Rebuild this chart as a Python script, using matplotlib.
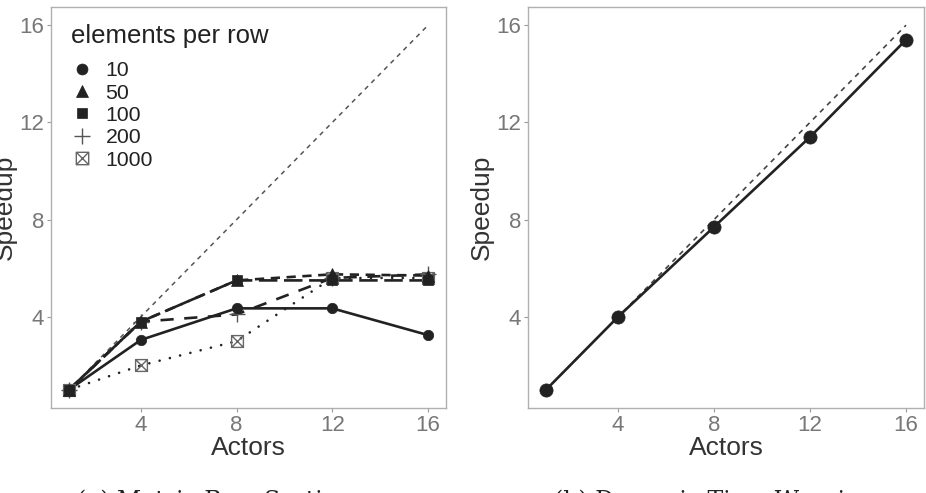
import matplotlib
matplotlib.use("Agg")
import matplotlib.pyplot as plt
from matplotlib.lines import Line2D
from matplotlib.path import Path

plt.rcParams['font.family'] = ['Liberation Sans', 'DejaVu Sans']

actors = [1, 4, 8, 12, 16]
ideal = [1, 16]

# matrix row sorting, one series per "elements per row"
row_labels = ['10', '50', '100', '200', '1000']
speed_10 = [1, 3.05, 4.35, 4.35, 3.25]
speed_50 = [1, 3.8, 5.5, 5.75, 5.7]
speed_100 = [1, 3.8, 5.5, 5.5, 5.5]
speed_200 = [1, 3.8, 4.1, 5.6, 5.75]
speed_1000 = [1, 2.0, 3.0, 5.6, 5.6]

# dynamic time warping
dtw_speed = [1, 4.0, 7.7, 11.4, 15.4]

# square with a cross inside (ggplot shape 7)
sq_cross = Path([(-1, -1), (1, -1), (1, 1), (-1, 1), (-1, -1),
                 (-1, -1), (1, 1), (-1, 1), (1, -1)],
                [Path.MOVETO, Path.LINETO, Path.LINETO, Path.LINETO, Path.CLOSEPOLY,
                 Path.MOVETO, Path.LINETO, Path.MOVETO, Path.LINETO])

dark = '#222222'
series = [
    (speed_10, 'o', '-', 7.5, dark, 'full'),
    (speed_50, '^', (0, (3.5, 2.5)), 8, dark, 'full'),
    (speed_100, 's', (0, (7, 2.5)), 7.5, dark, 'full'),
    (speed_200, '+', (0, (5, 4)), 11, '#555555', 'full'),
    (speed_1000, sq_cross, (0, (0.01, 4)), 8.5, '#666666', 'none'),
]

fig = plt.figure(figsize=(9.26, 4.93), dpi=100)
ax1 = fig.add_axes([51 / 926, 1 - 408 / 493, 395 / 926, 401 / 493])
ax2 = fig.add_axes([528 / 926, 1 - 408 / 493, 396 / 926, 401 / 493])


def style(ax):
    ax.set_xlim(0.25, 16.75)
    ax.set_ylim(0.25, 16.75)
    ax.set_xticks([4, 8, 12, 16])
    ax.set_yticks([4, 8, 12, 16])
    for s in ax.spines.values():
        s.set_color('#b0b0b0')
        s.set_linewidth(1.0)
    ax.tick_params(colors='#9a9a9a', labelcolor='#777777', labelsize=16,
                   length=3, width=0.8, pad=2)
    ax.set_xlabel('Actors', fontsize=19, color='#333333')
    ax.set_ylabel('Speedup', fontsize=19, color='#333333')
    ax.xaxis.set_label_coords(0.5, -0.07)
    ax.yaxis.set_label_coords(-0.087, 0.5)


def marker_kw(mk, ms, col, fill):
    return dict(linestyle='none', marker=mk, markersize=ms, color=col,
                markerfacecolor=(col if fill == 'full' else 'none'),
                markeredgewidth=(1.0 if fill == 'none' or mk == '+' else 0.5))


# left panel
ax1.plot(ideal, ideal, linestyle=(0, (3, 3)), color='#555555', linewidth=1.1)
for vals, mk, ls, ms, col, fill in series:
    ax1.plot(actors, vals, linestyle=ls, color=dark, linewidth=1.9,
             dash_capstyle='round' if fill == 'none' else 'butt')
for vals, mk, ls, ms, col, fill in reversed(series):
    ax1.plot(actors, vals, **marker_kw(mk, ms, col, fill))
style(ax1)

handles = [Line2D([], [], **marker_kw(mk, ms * 1.05, col, fill))
           for vals, mk, ls, ms, col, fill in series]
leg = ax1.legend(handles, row_labels, loc='upper left',
                 bbox_to_anchor=(0.052, 0.865), frameon=False, fontsize=15.3,
                 handlelength=1.0, handletextpad=0.6, labelspacing=0.16,
                 borderpad=0, borderaxespad=0)
for t in leg.get_texts():
    t.set_color('#222222')
ax1.text(0.05, 0.928, 'elements per row', transform=ax1.transAxes,
         ha='left', va='center', fontsize=18.5, color='#222222')

# right panel
ax2.plot(ideal, ideal, linestyle=(0, (3, 3)), color='#444444', linewidth=1.2)
ax2.plot(actors, dtw_speed, color=dark, linewidth=1.9, marker='o',
         markersize=9.5, markeredgewidth=0.5)
style(ax2)

fig.text(215 / 926, 1 - 489 / 493, '(a) Matrix Row Sorting', ha='center', va='top',
         fontsize=17, family=['DejaVu Serif'], color='#222222')
fig.text(715 / 926, 1 - 489 / 493, '(b) Dynamic Time Warping', ha='center', va='top',
         fontsize=17, family=['DejaVu Serif'], color='#222222')

fig.savefig('out.png', dpi=100)
